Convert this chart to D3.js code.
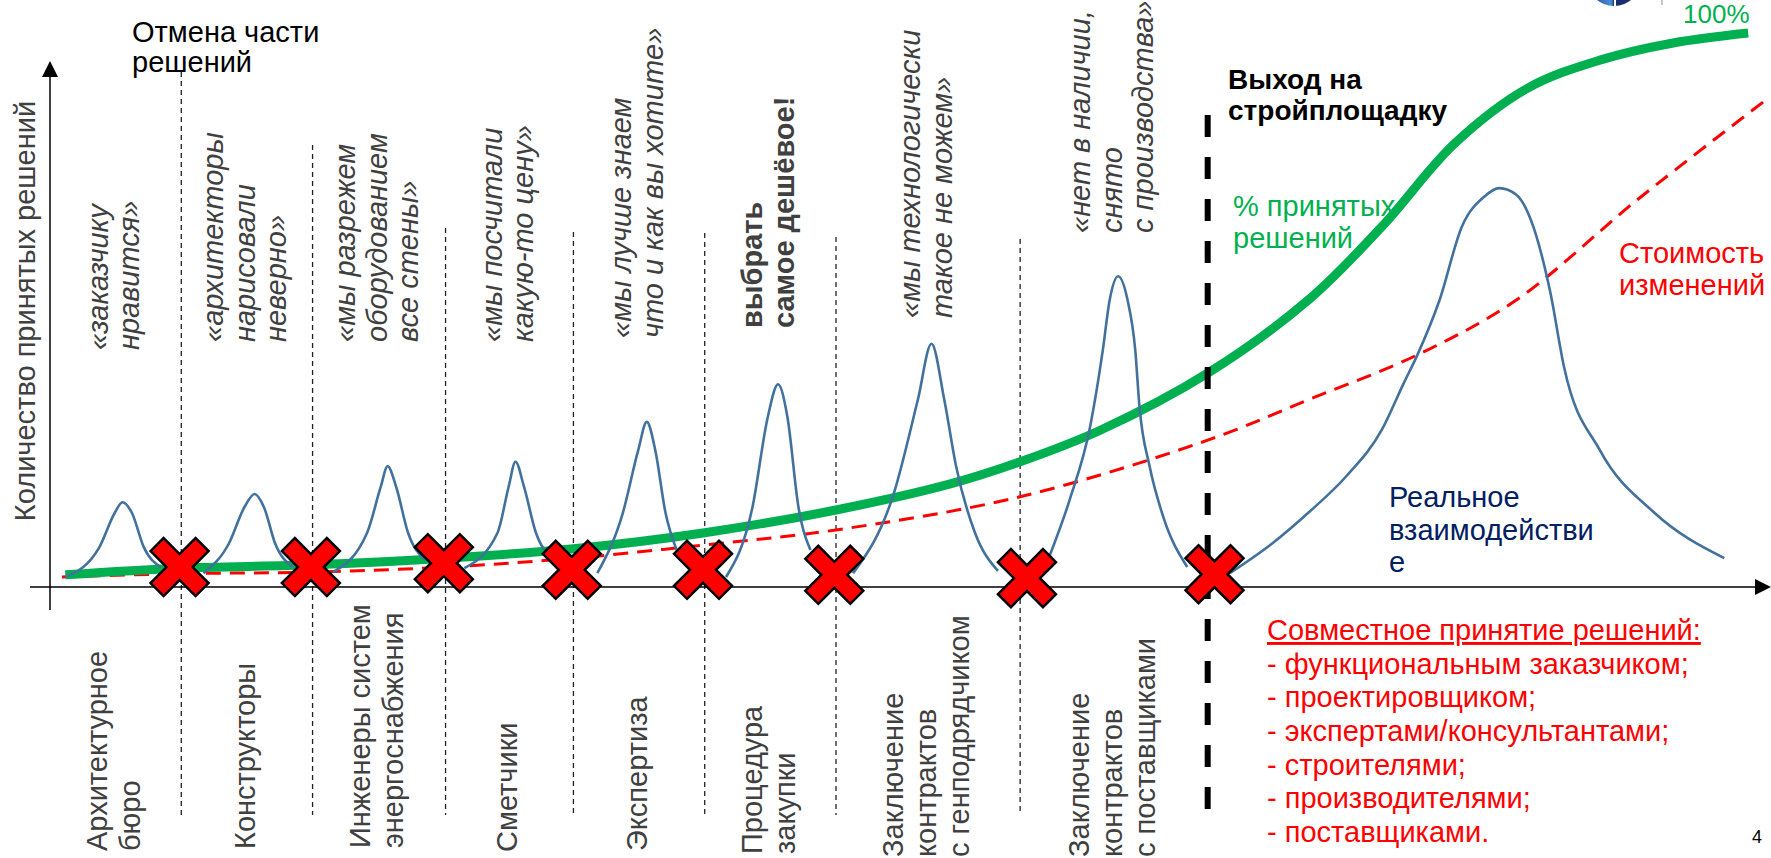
<!DOCTYPE html>
<html>
<head>
<meta charset="utf-8">
<script src="https://cdn.jsdelivr.net/npm/d3@7"></script>
<style>
  body { margin: 0; background: #fff; }
  svg { display: block; }
  text { font-family: "Liberation Sans", Arial, Helvetica, sans-serif; }
</style>
</head>
<body>
<svg id="chart" width="1771" height="858"></svg>
<script>
// ---------- data (x: project timeline 0–100, y: share of decisions / relative level 0–100) ----------
const stageNames = [
  ["Архитектурное", "бюро"],
  ["Конструкторы"],
  ["Инженеры систем", "энергоснабжения"],
  ["Сметчики"],
  ["Экспертиза"],
  ["Процедура", "закупки"],
  ["Заключение", "контрактов", "с генподрядчиком"],
  ["Заключение", "контрактов", "с поставщиками"]
];
const stageBounds = [7.7, 15.4, 23.2, 30.7, 38.4, 46.1, 56.9];
const siteStart = 67.9;

const quotes = [
  ["«заказчику", "нравится»"],
  ["«архитекторы", "нарисовали", "неверно»"],
  ["«мы разрежем", "оборудованием", "все стены»"],
  ["«мы посчитали", "какую-то цену»"],
  ["«мы лучше знаем", "что и как вы хотите»"],
  ["выбрать", "самое дешёвое!"],
  ["«мы технологически", "такое не можем»"],
  ["«нет в наличии,", "снято", "с производства»"]
];
const quoteBold = [false, false, false, false, false, true, false, false];

// share of decisions taken (green)
const decisionsShare = [
  [0.9, 2.2], [7.6, 3.4], [15.4, 4.0], [23.2, 5.2], [30.7, 6.9], [38.4, 9.8],
  [46.1, 13.9], [52.8, 18.6], [56.9, 22.6], [61.6, 28.3], [67.9, 38.6], [73.8, 51.8],
  [78.1, 65.0], [82.4, 80.1], [86.7, 90.1], [90.9, 95.1], [95.2, 98.2], [99.6, 100]
];

// cost of changes (red dashed)
const changeCost = [
  [0.7, 1.8], [7.6, 2.4], [15.4, 2.7], [23.2, 3.6], [30.7, 5.2], [38.4, 7.6],
  [46.1, 10.3], [56.9, 16.3], [67.9, 26.5], [73.8, 33.8], [80.2, 41.9], [86.0, 51.8],
  [93.1, 69.9], [100.8, 88.3]
];

// real interaction, one burst per stage (blue)
const interaction = [
  [[0.9, 1.8], [2.9, 7.2], [3.8, 13.4], [4.25, 15.3], [4.8, 13.4], [5.5, 7.2], [6.5, 3.6]],
  [[9.0, 2.5], [10.5, 7.9], [11.4, 14.4], [12.0, 16.8], [12.55, 14.4], [13.2, 7.9], [14.25, 3.6]],
  [[16.6, 2.7], [18.6, 9.8], [19.4, 18.1], [19.8, 21.8], [20.3, 18.1], [21.0, 9.8], [22.0, 4.9]],
  [[24.3, 3.4], [26.25, 9.8], [26.9, 18.1], [27.3, 22.6], [27.8, 18.1], [28.5, 9.8], [29.4, 5.4]],
  [[32.1, 2.5], [33.6, 13.4], [34.5, 24.7], [35.0, 29.8], [35.5, 24.7], [36.1, 13.4], [36.75, 6.7]],
  [[39.65, 1.8], [41.2, 14.4], [42.1, 30.7], [42.7, 36.6], [43.25, 30.7], [43.9, 14.4], [44.6, 6.7]],
  [[47.1, 2.5], [49.5, 17.0], [50.9, 33.8], [51.7, 43.9], [52.45, 33.8], [53.15, 21.7], [54.25, 9.8], [55.6, 2.9]],
  [[58.6, 5.4], [59.8, 15.7], [61.0, 28.9], [61.75, 42.8], [62.15, 51.8], [62.65, 56.1], [63.2, 51.8],
   [63.65, 42.8], [63.9, 32.5], [64.5, 21.7], [65.3, 12.6], [66.7, 3.6]],
  [[69.2, 2.5], [71.7, 7.9], [73.8, 13.4], [76.0, 19.9], [78.1, 28.3], [79.4, 36.8], [80.2, 41.9],
   [81.5, 51.8], [82.8, 65.0], [84.1, 70.4], [85.0, 72.0], [86.0, 70.8], [86.85, 66.3], [88.0, 53.1],
   [88.8, 39.7], [90.9, 24.7], [94.1, 13.4], [98.2, 5.2]]
];

// decisions cancelled at each hand-over
const cancelPoints = [[7.6, 3.6], [15.3, 3.6], [23.1, 4.3], [30.6, 3.1], [38.3, 3.1], [46.0, 2.2], [57.3, 1.6], [68.3, 2.3]];

const jointTitle = "Совместное принятие решений:";
const jointParties = ["функциональным заказчиком;", "проектировщиком;", "экспертами/консультантами;",
  "строителями;", "производителями;", "поставщиками."];

// ---------- layout ----------
const W = 1771, H = 858;
const fs = 29;
const quoteStartY = [350, 342, 342, 342, 338, 328, 318, 233];
const stageLabelStartY = [851, 849, 848, 852, 851, 854, 857, 857];
const separatorTopY = [72, 145, 228, 232, 233, 237, 239];
const separatorBottomY = 815;

const svg = d3.select("#chart");
const x = d3.scaleLinear().domain([0, 100]).range([50, 1755]);
const y = d3.scaleLinear().domain([0, 100]).range([587, 33]);
const x0 = x(0), y0 = y(0);

// stage centres from boundaries
const edges = [0, ...stageBounds, siteStart];
const stageMid = d3.range(8).map(i => (x(edges[i]) + x(edges[i + 1])) / 2);

// thin dashed separators between stages
svg.append("g").selectAll("line").data(stageBounds).join("line")
  .attr("x1", d => x(d)).attr("x2", d => x(d))
  .attr("y1", (d, i) => separatorTopY[i]).attr("y2", separatorBottomY)
  .attr("stroke", "#222").attr("stroke-width", 1.3).attr("stroke-dasharray", "5,4");

// axes
const axes = svg.append("g");
axes.append("line").attr("x1", x0).attr("x2", x0).attr("y1", 74).attr("y2", 610)
  .attr("stroke", "#000").attr("stroke-width", 1.5);
axes.append("path").attr("d", `M${x0},61 L${x0 - 8},77 L${x0 + 8},77 Z`).attr("fill", "#000");
axes.append("line").attr("x1", 30).attr("x2", W - 14).attr("y1", y0).attr("y2", y0)
  .attr("stroke", "#000").attr("stroke-width", 1.5);
axes.append("path").attr("d", `M${W},${y0} L${W - 16},${y0 - 8} L${W - 16},${y0 + 8} Z`).attr("fill", "#000");

// curves
const smooth = d3.line().x(d => x(d[0])).y(d => y(d[1])).curve(d3.curveCatmullRom.alpha(0.5));
const bump = d3.line().x(d => x(d[0])).y(d => y(d[1])).curve(d3.curveMonotoneX);

svg.append("path").datum(changeCost).attr("d", smooth)
  .attr("fill", "none").attr("stroke", "#FF0000").attr("stroke-width", 3).attr("stroke-dasharray", "15,9");
svg.append("path").datum(decisionsShare).attr("d", smooth)
  .attr("fill", "none").attr("stroke", "#00B050").attr("stroke-width", 9).attr("stroke-linecap", "butt");
svg.append("g").selectAll("path").data(interaction).join("path").attr("d", bump)
  .attr("fill", "none").attr("stroke", "#41719C").attr("stroke-width", 2.6);

// site start: thick dashed line
svg.append("line").attr("x1", x(siteStart)).attr("x2", x(siteStart)).attr("y1", 115).attr("y2", 812)
  .attr("stroke", "#000").attr("stroke-width", 6).attr("stroke-dasharray", "22,20");

// red crosses
const h = 29, t = 13;
const crossPath = `M${-h},${-h + t} L${-h + t},${-h} L0,${-t} L${h - t},${-h} L${h},${-h + t} L${t},0 ` +
  `L${h},${h - t} L${h - t},${h} L0,${t} L${-h + t},${h} L${-h},${h - t} L${-t},0 Z`;
svg.append("g").selectAll("path").data(cancelPoints).join("path")
  .attr("transform", d => `translate(${x(d[0])},${y(d[1])})`)
  .attr("d", crossPath).attr("fill", "#FF0000").attr("stroke", "#000").attr("stroke-width", 2.5)
  .attr("stroke-linejoin", "miter");

// vertical text helper (reads bottom to top, lines stacked left to right)
function vLines(lines, centerX, startY, spacing, style) {
  const n = lines.length;
  lines.forEach((s, i) => {
    const cx = centerX + (i - (n - 1) / 2) * spacing;
    const tx = svg.append("text")
      .attr("transform", `translate(${cx + 0.27 * style.size},${startY}) rotate(-90)`)
      .attr("font-size", style.size).attr("fill", style.color)
      .text(s);
    if (style.italic) tx.attr("font-style", "italic");
    if (style.bold) tx.attr("font-weight", "bold");
  });
}

quotes.forEach((q, i) => vLines(q, stageMid[i], quoteStartY[i], 31.5,
  { size: fs, color: "#404040", italic: !quoteBold[i], bold: quoteBold[i] }));
stageNames.forEach((s, i) => vLines(s, stageMid[i], stageLabelStartY[i], 33,
  { size: fs, color: "#404040" }));

// y-axis title
svg.append("text").attr("transform", `translate(35,${311}) rotate(-90)`)
  .attr("text-anchor", "middle").attr("font-size", fs).attr("fill", "#404040")
  .text("Количество принятых решений");

// horizontal texts
function hLines(lines, tx, ty, spacing, style) {
  lines.forEach((s, i) => {
    const e = svg.append("text").attr("x", tx).attr("y", ty + i * spacing)
      .attr("font-size", style.size).attr("fill", style.color).text(s);
    if (style.bold) e.attr("font-weight", "bold");
    if (style.underline) e.attr("text-decoration", "underline");
  });
}
hLines(["Отмена части", "решений"], 132, 42, 30, { size: fs, color: "#000" });
hLines(["Выход на", "стройплощадку"], 1228, 89, 31, { size: 28, color: "#000", bold: true });
hLines(["% принятых", "решений"], 1233, 216, 32, { size: fs, color: "#00B050" });
hLines(["Стоимость", "изменений"], 1619, 263, 32, { size: fs, color: "#FF0000" });
hLines(["Реальное", "взаимодействи", "е"], 1389, 507, 32.5, { size: fs, color: "#002060" });
hLines(["100%"], 1683, 23, 0, { size: 26, color: "#00B050" });
hLines([jointTitle], 1267, 640, 0, { size: fs, color: "#FF0000", underline: true });
hLines(jointParties.map(p => "- " + p), 1267, 673.5, 33.7, { size: fs, color: "#FF0000" });
hLines(["4"], 1752, 843, 0, { size: 18, color: "#000" });

// logo fragment at the top edge
const defs = svg.append("defs");
const grad = defs.append("linearGradient").attr("id", "logoGrad");
grad.append("stop").attr("offset", "0%").attr("stop-color", "#1f3f8f");
grad.append("stop").attr("offset", "45%").attr("stop-color", "#4a8fd6");
grad.append("stop").attr("offset", "50%").attr("stop-color", "#1c2d6e");
grad.append("stop").attr("offset", "100%").attr("stop-color", "#1c2d6e");
svg.append("circle").attr("cx", 1614).attr("cy", -21).attr("r", 27).attr("fill", "url(#logoGrad)");
svg.append("line").attr("x1", 1615).attr("x2", 1615).attr("y1", -10).attr("y2", 8)
  .attr("stroke", "#fff").attr("stroke-width", 2);
svg.append("line").attr("x1", 1662).attr("x2", 1662).attr("y1", 0).attr("y2", 5)
  .attr("stroke", "#888").attr("stroke-width", 1);
</script>
</body>
</html>
